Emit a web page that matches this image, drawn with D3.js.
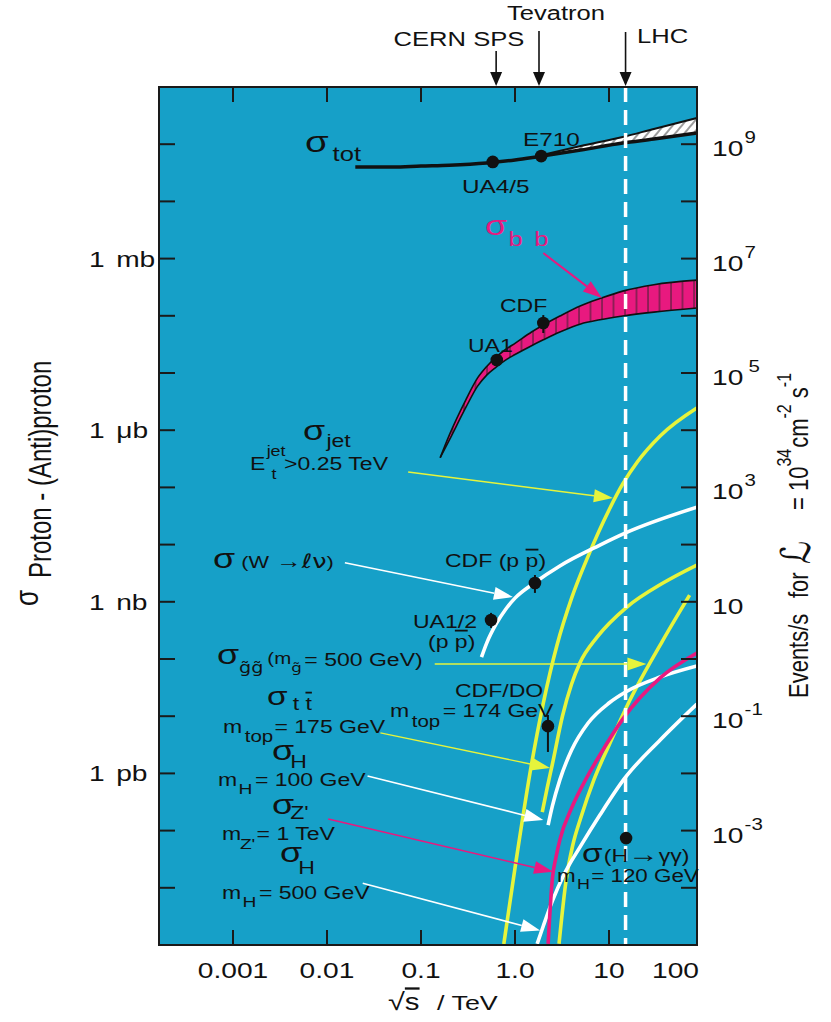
<!DOCTYPE html>
<html>
<head>
<meta charset="utf-8">
<title>Proton–(anti)proton cross sections</title>
<script src="https://cdn.jsdelivr.net/npm/d3@7/dist/d3.min.js"></script>
<style>
  html, body { margin: 0; padding: 0; background: #ffffff; }
  svg { display: block; }
  text { font-family: "Liberation Sans", Arial, Helvetica, sans-serif; fill: #111; white-space: pre; }
</style>
</head>
<body>
<svg id="chart" width="831" height="1022"></svg>
<script>
// ---------- data: √s in TeV, σ in nb ----------

// total cross section (line) and its high-energy uncertainty band
const totEnergy = [0.02, 0.05, 0.1, 0.2, 0.5, 1, 1.8, 5, 14, 30, 86];
const totSigma  = [4.0e7, 4.0e7, 4.16e7, 4.3e7, 4.7e7, 5.3e7, 6.1e7, 7.9e7, 1.05e8, 1.23e8, 1.57e8];
const totBandEnergy = [1.8, 5, 14, 30, 86];
const totBandLow    = [6.1e7, 7.9e7, 1.05e8, 1.23e8, 1.57e8];
const totBandHigh   = [6.3e7, 9.3e7, 1.34e8, 1.85e8, 2.87e8];
const totPointNames  = ["UA4/5", "E710"];
const totPointEnergy = [0.58, 1.9];
const totPointSigma  = [4.9e7, 6.2e7];

// b-quark pair band
const bbEnergy = [0.16, 0.2, 0.3, 0.4, 0.5, 0.63, 0.8, 1, 1.5, 2, 3, 5, 8, 14, 30, 86];
const bbHigh = [330, 820, 3400, 8200, 13000, 19000, 26000, 33000, 52000, 69000, 99000, 150000, 200000, 270000, 350000, 420000];
const bbLow  = [330, 670, 2500, 5900, 9200, 12700, 17000, 21000, 30000, 38000, 52000, 72000, 85000, 99000, 116000, 137000];
const bbPointNames  = ["UA1", "CDF"];
const bbPointEnergy = [0.64, 2.0];
const bbPointSigma  = [16900, 75000];
const bbPointLow    = [null, 50000];
const bbPointHigh   = [null, 103000];

// jets, E_t > 0.25 TeV
const jetEnergy = [0.76, 1, 1.5, 2, 2.8, 4, 6, 10, 14, 20, 35, 86];
const jetSigma  = [1.04e-6, 2.22e-5, 1.46e-3, 0.017, 0.176, 1.16, 6.3, 40.3, 115, 278, 792, 2440];

// W -> l nu
const wEnergy = [0.44, 0.5, 0.63, 0.8, 1, 1.6, 3, 8, 15, 86];
const wSigma  = [0.108, 0.19, 0.41, 0.75, 1.16, 2.13, 4.23, 9.8, 16.0, 45];
const wPointNames  = ["UA1/2", "CDF"];
const wPointEnergy = [0.556, 1.63];
const wPointSigma  = [0.48, 2.13];
const wPointLow    = [0.35, 1.43];
const wPointHigh   = [0.64, 2.94];

// gluino pairs, m = 500 GeV
const glEnergy = [2.94, 3.5, 4.1, 5, 6.9, 10, 16.7, 37, 72];
const glSigma  = [1.05e-6, 1.37e-5, 5.4e-5, 1.66e-4, 7.7e-4, 3.1e-3, 0.0192, 0.206, 1.31];

// top pairs, m_top = 175 GeV
const ttEnergy = [1.95, 2.2, 2.5, 3.2, 4, 4.9, 7.5, 15.5, 37.5, 86];
const ttSigma  = [2.1e-4, 5.6e-4, 1.46e-3, 0.0101, 0.0366, 0.085, 0.243, 0.81, 2.13, 4.4];
const ttPointEnergy = [2.24];
const ttPointSigma  = [6.7e-3];
const ttPointLow    = [2.37e-3];
const ttPointHigh   = [0.0105];

// Higgs, m_H = 100 GeV
const h100Energy = [2.25, 2.5, 3, 4, 6, 10, 15, 35, 86];
const h100Sigma  = [1.25e-4, 2.7e-4, 7.7e-4, 2.56e-3, 7.6e-3, 0.017, 0.0265, 0.0484, 0.0755];

// Z', m = 1 TeV
const zpEnergy = [2.25, 2.5, 2.73, 3, 4, 5.4, 8, 14, 35, 86];
const zpSigma  = [1.05e-6, 1.48e-5, 3.45e-5, 6.9e-5, 2.48e-4, 6.8e-4, 2.1e-3, 8.9e-3, 0.0466, 0.127];

// Higgs, m_H = 500 GeV
const h500Energy = [1.72, 2, 2.5, 3.3, 5, 8, 14.5, 35, 86];
const h500Sigma  = [1.05e-6, 2.15e-6, 5.9e-6, 1.67e-5, 5.4e-5, 1.87e-4, 8.0e-4, 3.84e-3, 0.0163];

// H -> gamma gamma, m_H = 120 GeV
const hggEnergy = [15.2];
const hggSigma  = [7.4e-5];

// annotation arrows: [√s, σ] tail -> head
const arrowNames = ["bb", "jet", "w", "gl", "tt", "h100", "zp", "h500"];
const arrowFrom  = [[2.0, 1.25e6], [0.073, 186], [0.0155, 4.8], [0.14, 0.082], [0.037, 5.1e-3], [0.027, 9.0e-4], [0.0103, 1.6e-4], [0.024, 1.2e-5]];
const arrowTo    = [[8.4, 2.05e5], [11, 65], [0.95, 1.21], [25, 0.082], [2.36, 1.24e-3], [2.0, 1.53e-4], [2.54, 1.9e-5], [1.85, 1.8e-6]];

// colliders marked along the top
const accelNames  = ["CERN SPS", "Tevatron", "LHC"];
const accelEnergy = [0.63, 1.8, 15];

// axis ticks
const xTickValues = [0.001, 0.01, 0.1, 1, 10, 100];
const xTickLabels = ["0.001", "0.01", "0.1", "1.0", "10", "100"];
const sigmaTickValues = [1e6, 1e3, 1, 1e-3];
const sigmaTickUnits  = ["mb", "\u03bcb", "nb", "pb"];
const rateTickValues  = [1e9, 1e7, 1e5, 1e3, 1e1, 1e-1, 1e-3];
const rateTickExps    = ["9", "7", "5", "3", "", "-1", "-3"];

// ---------- drawing ----------
const C = { bg: "#16a0c8", magenta: "#e8197f", yellow: "#e6f43c", white: "#ffffff", ink: "#111111" };
const SX = 1.28;   // horizontal stretch of the lettering
const svg = d3.select("#chart");
const P = { left: 159, right: 697, top: 87, bottom: 945 };

const x = d3.scaleLog().domain([10 ** -3.787, 10 ** 1.936]).range([P.left, P.right]);
const y = d3.scaleLog().domain([1e-6, 1e9]).range([P.bottom, P.top]);
// events per second at L = 1e34 cm^-2 s^-1  (1 nb -> 10 /s)
const yRate = d3.scaleLog().domain([1e-5, 1e10]).range([P.bottom, P.top]);

const defs = svg.append("defs");
defs.append("clipPath").attr("id", "plotClip")
  .append("rect").attr("x", P.left).attr("y", P.top)
  .attr("width", P.right - P.left).attr("height", P.bottom - P.top);

const hatchTot = defs.append("pattern").attr("id", "hatchTot")
  .attr("patternUnits", "userSpaceOnUse").attr("width", 7).attr("height", 7)
  .attr("patternTransform", "rotate(40)");
hatchTot.append("rect").attr("width", 7).attr("height", 7).attr("fill", "#ffffff");
hatchTot.append("line").attr("x1", 1).attr("y1", 0).attr("x2", 1).attr("y2", 7)
  .attr("stroke", "#222").attr("stroke-width", 0.9);

const hatchBB = defs.append("pattern").attr("id", "hatchBB")
  .attr("patternUnits", "userSpaceOnUse").attr("width", 11.5).attr("height", 10)
  .attr("x", 3);
hatchBB.append("rect").attr("width", 11.5).attr("height", 10).attr("fill", C.magenta);
hatchBB.append("line").attr("x1", 1).attr("y1", 0).attr("x2", 1).attr("y2", 10)
  .attr("stroke", "#222").attr("stroke-width", 0.9);

// plot background
svg.append("rect").attr("x", P.left).attr("y", P.top)
  .attr("width", P.right - P.left).attr("height", P.bottom - P.top)
  .attr("fill", C.bg);

const plot = svg.append("g").attr("clip-path", "url(#plotClip)");
const smooth = d3.curveMonotoneX;
const zip = (es, ss) => es.map((e, i) => [e, ss[i]]);
const line = d3.line().x(d => x(d[0])).y(d => y(d[1])).curve(smooth);
const band = d3.area().x(d => x(d[0])).y0(d => y(d[1])).y1(d => y(d[2])).curve(smooth);

// total cross section with hatched band
plot.append("path")
  .datum(totBandEnergy.map((e, i) => [e, totBandLow[i], totBandHigh[i]]))
  .attr("d", band).attr("fill", "url(#hatchTot)");
plot.append("path").datum(zip(totBandEnergy, totBandHigh)).attr("d", line)
  .attr("fill", "none").attr("stroke", C.ink).attr("stroke-width", 2);
plot.append("path").datum(zip(totEnergy, totSigma)).attr("d", line)
  .attr("fill", "none").attr("stroke", C.ink).attr("stroke-width", 3.5);

// b-bbar band
plot.append("path")
  .datum(bbEnergy.map((e, i) => [e, bbLow[i], bbHigh[i]]))
  .attr("d", band).attr("fill", "url(#hatchBB)");
[bbHigh, bbLow].forEach(s => plot.append("path").datum(zip(bbEnergy, s)).attr("d", line)
  .attr("fill", "none").attr("stroke", C.ink).attr("stroke-width", 1.6));

// process curves
const curves = [
  { e: jetEnergy, s: jetSigma, c: C.yellow },
  { e: wEnergy, s: wSigma, c: C.white },
  { e: ttEnergy, s: ttSigma, c: C.yellow },
  { e: glEnergy, s: glSigma, c: C.yellow },
  { e: h100Energy, s: h100Sigma, c: C.white },
  { e: h500Energy, s: h500Sigma, c: C.white },
  { e: zpEnergy, s: zpSigma, c: C.magenta },
];
curves.forEach(k => plot.append("path").datum(zip(k.e, k.s)).attr("d", line)
  .attr("fill", "none").attr("stroke", k.c).attr("stroke-width", 3.6)
  .attr("stroke-linecap", "butt"));

// LHC energy
plot.append("line")
  .attr("x1", x(accelEnergy[2])).attr("x2", x(accelEnergy[2]))
  .attr("y1", P.top).attr("y2", P.bottom)
  .attr("stroke", C.white).attr("stroke-width", 3.5).attr("stroke-dasharray", "15,8");

// annotation arrows
const arrowColor = { bb: C.magenta, jet: C.yellow, w: C.white, gl: C.yellow, tt: C.yellow, h100: C.white, zp: C.magenta, h500: C.white };
const arrowWidth = { bb: 2, jet: 1.4, w: 1.6, gl: 1.4, tt: 1.4, h100: 1.6, zp: 1.6, h500: 1.6 };
arrowNames.forEach((n, i) => {
  const x0 = x(arrowFrom[i][0]), y0 = y(arrowFrom[i][1]);
  const x1 = x(arrowTo[i][0]), y1 = y(arrowTo[i][1]);
  const a = Math.atan2(y1 - y0, x1 - x0);
  const L = 19, Wd = 6.5;
  const bx = x1 - L * Math.cos(a), by = y1 - L * Math.sin(a);
  plot.append("line").attr("x1", x0).attr("y1", y0).attr("x2", bx).attr("y2", by)
    .attr("stroke", arrowColor[n]).attr("stroke-width", arrowWidth[n]);
  plot.append("path")
    .attr("d", `M${x1},${y1}L${bx + Wd * Math.sin(a)},${by - Wd * Math.cos(a)}L${bx - Wd * Math.sin(a)},${by + Wd * Math.cos(a)}Z`)
    .attr("fill", arrowColor[n]);
});

// measured points with error bars
function points(es, ss, lo, hi) {
  es.forEach((e, i) => {
    if (lo && lo[i] != null) {
      plot.append("line").attr("x1", x(e)).attr("x2", x(e))
        .attr("y1", y(lo[i])).attr("y2", y(hi[i]))
        .attr("stroke", C.ink).attr("stroke-width", 2);
    }
    plot.append("circle").attr("cx", x(e)).attr("cy", y(ss[i])).attr("r", 6.3).attr("fill", C.ink);
  });
}
points(totPointEnergy, totPointSigma);
points(bbPointEnergy, bbPointSigma, bbPointLow, bbPointHigh);
points(wPointEnergy, wPointSigma, wPointLow, wPointHigh);
points(ttPointEnergy, ttPointSigma, ttPointLow, ttPointHigh);
points(hggEnergy, hggSigma);

// frame and ticks
svg.append("rect").attr("x", P.left).attr("y", P.top)
  .attr("width", P.right - P.left).attr("height", P.bottom - P.top)
  .attr("fill", "none").attr("stroke", "#1a1a1a").attr("stroke-width", 2);

const ticks = svg.append("g").attr("stroke", "#1a1a1a").attr("stroke-width", 2);
xTickValues.filter(v => v <= x.domain()[1]).forEach(v => {
  ticks.append("line").attr("x1", x(v)).attr("x2", x(v)).attr("y1", P.bottom).attr("y2", P.bottom - 15);
  ticks.append("line").attr("x1", x(v)).attr("x2", x(v)).attr("y1", P.top).attr("y2", P.top + 15);
});
d3.range(-5, 9).map(p => 10 ** p).forEach(v => {
  ticks.append("line").attr("x1", P.left).attr("x2", P.left + 16).attr("y1", y(v)).attr("y2", y(v));
  ticks.append("line").attr("x1", P.right).attr("x2", P.right - 16).attr("y1", y(v)).attr("y2", y(v));
});

// ---------- lettering ----------
// parts: strings or {t, size, dx, dy, font, over}
function label(px, py, parts, size, opt = {}) {
  const t = svg.append("text")
    .attr("transform", `translate(${px},${py}) scale(${SX},1)` + (opt.rotate ? " rotate(-90)" : ""))
    .attr("font-size", size)
    .attr("text-anchor", opt.anchor || "start")
    .style("fill", opt.fill || C.ink);
  (Array.isArray(parts) ? parts : [parts]).forEach(p => {
    if (typeof p === "string") p = { t: p };
    const ts = t.append("tspan").text(p.t);
    if (p.over) ts.style("text-decoration", "overline");
    if (p.font) ts.style("font-family", p.font);
    if (p.size) ts.attr("font-size", p.size);
    if (p.dx) ts.attr("dx", p.dx);
    if (p.dy) ts.attr("dy", p.dy);
  });
  return t;
}

// x tick labels
xTickValues.forEach((v, i) => {
  const inside = v <= x.domain()[1];
  label(inside ? x(v) : P.right + 2, 978, xTickLabels[i], 22, { anchor: inside ? "middle" : "end" });
});
// left: cross-section units
sigmaTickValues.forEach((v, i) => {
  label(89, y(v) + 8, ["1", { t: sigmaTickUnits[i], dx: 9 }], 22);
});
// right: event rates
rateTickValues.forEach((v, i) => {
  const e = rateTickExps[i];
  label(712, yRate(v) + 12, e ? ["10", { t: e, size: 16, dx: e === "5" ? 4 : 1, dy: -13 }] : "10", 22);
});

// axis titles
label(388, 1010, ["\u221a", { t: "s", over: true, size: 23 }], 24);
label(437, 1010, "/ TeV", 21);

label(38, 606, "\u03c3", 26, { rotate: true });
label(51, 578, "Proton - (Anti)proton", 24, { rotate: true });

label(808, 698, "Events/s", 22, { rotate: true });
label(808, 598, "for", 22, { rotate: true });
label(810, 564, [{ t: "\u2112", font: "DejaVu Sans" }], 32, { rotate: true });
label(808, 510, ["= 10", { t: "34", size: 16, dy: -13 }, { t: "cm", dx: 1, dy: 13 }, { t: "-2", size: 16, dy: -13 },
                 { t: " s", dy: 13 }, { t: "-1", size: 16, dy: -13 }], 22, { rotate: true });

// colliders along the top
const accelLabelPos = [[459, 46, "middle"], [556, 20, "middle"], [637, 43, "start"]];
const accelArrowTop = [51, 31, 32];
accelNames.forEach((n, i) => {
  const ax = x(accelEnergy[i]);
  label(accelLabelPos[i][0], accelLabelPos[i][1], n, 20, { anchor: accelLabelPos[i][2] });
  svg.append("line").attr("x1", ax).attr("x2", ax).attr("y1", accelArrowTop[i]).attr("y2", P.top - 12)
    .attr("stroke", C.ink).attr("stroke-width", 1.6);
  svg.append("path").attr("d", `M${ax},${P.top - 1}L${ax - 6},${P.top - 15}L${ax + 6},${P.top - 15}Z`).attr("fill", C.ink);
});

// total cross section
label(305, 152, [{ t: "\u03c3", size: 30 }, { t: "tot", size: 20, dx: 3, dy: 9 }], 30);
label(523, 146, totPointNames[1], 19);
label(462, 193, totPointNames[0], 19);

// b-bbar
label(485, 235, [{ t: "\u03c3", size: 28 }, { t: "b", size: 20, dx: 1, dy: 11 }, { t: "b", size: 20, dx: 9 }], 28, { fill: C.magenta });
label(500, 312, bbPointNames[1], 18);
label(468, 352, bbPointNames[0], 18);

// jets
label(303, 440, [{ t: "\u03c3", size: 28 }, { t: "jet", size: 18, dx: 1, dy: 7 }], 28);
label(250, 470, ["E", { t: "jet", size: 14, dx: 1, dy: -14 }, { t: "t", size: 14, dx: -11, dy: 23 },
                 { t: ">0.25 TeV", dx: 6, dy: -9 }], 18);

// W
label(213, 568, [{ t: "\u03c3", size: 28 }, { t: " (W", size: 17 }, { t: " \u2192", size: 20 },
                 { t: "\u2113\u03bd", size: 20, font: "DejaVu Sans" }, { t: ")", size: 17 }], 28);
label(445, 567, ["CDF (p ", { t: "p", over: true }, ")"], 18);
label(413, 628, wPointNames[0], 18);
label(428, 648, ["(p ", { t: "p", over: true }, ")"], 18);

// gluinos
label(217, 664, [{ t: "\u03c3", size: 28 }, { t: "g\u0303g\u0303", size: 15, font: "DejaVu Sans", dx: 0, dy: 9 },
                 { t: "(m", size: 16, dx: 3, dy: -9 }, { t: "g\u0303", size: 13, font: "DejaVu Sans", dy: 8 },
                 { t: "= 500 GeV)", size: 18, dx: 2, dy: -6 }], 28);

// top
label(267, 705, [{ t: "\u03c3", size: 26 }, { t: "t ", size: 18, dx: 4, dy: 5 }, { t: "t", size: 18, over: true }], 26);
label(223, 733, ["m", { t: "top", size: 16, dx: 2, dy: 9 }, { t: "= 175 GeV", dx: 1, dy: -9 }], 18);
label(455, 697, "CDF/DO", 18);
label(390, 717, ["m", { t: "top", size: 16, dx: 2, dy: 10 }, { t: "= 174 GeV", dx: 2, dy: -10 }], 18);

// Higgs 100
label(272, 760, [{ t: "\u03c3", size: 28 }, { t: "H", size: 18, dx: -3, dy: 8 }], 28);
label(218, 786, ["m", { t: "H", size: 15, dx: 1, dy: 8 }, { t: "= 100 GeV", dx: 2, dy: -8 }], 18);

// Z'
label(272, 814, [{ t: "\u03c3", size: 28 }, { t: "Z'", size: 18, dx: -3, dy: 5 }], 28);
label(222, 840, ["m", { t: "Z'", size: 15, dx: -1, dy: 9 }, { t: "= 1 TeV", dx: 1, dy: -9 }], 18);

// Higgs 500
label(280, 862, [{ t: "\u03c3", size: 28 }, { t: "H", size: 18, dx: -3, dy: 12 }], 28);
label(222, 899, ["m", { t: "H", size: 15, dx: 1, dy: 8 }, { t: "= 500 GeV", dx: 2, dy: -8 }], 18);

// H -> gamma gamma
label(582, 862, [{ t: "\u03c3", size: 26 }, { t: "(H", size: 18, dx: 1 }, { t: "\u2192", size: 24 },
                 { t: "\u03b3\u03b3)", size: 18 }], 26);
label(557, 882, ["m", { t: "H", size: 14, dx: 1, dy: 7 }, { t: "= 120 GeV", dx: 1, dy: -7 }], 17.5);
</script>
</body>
</html>
